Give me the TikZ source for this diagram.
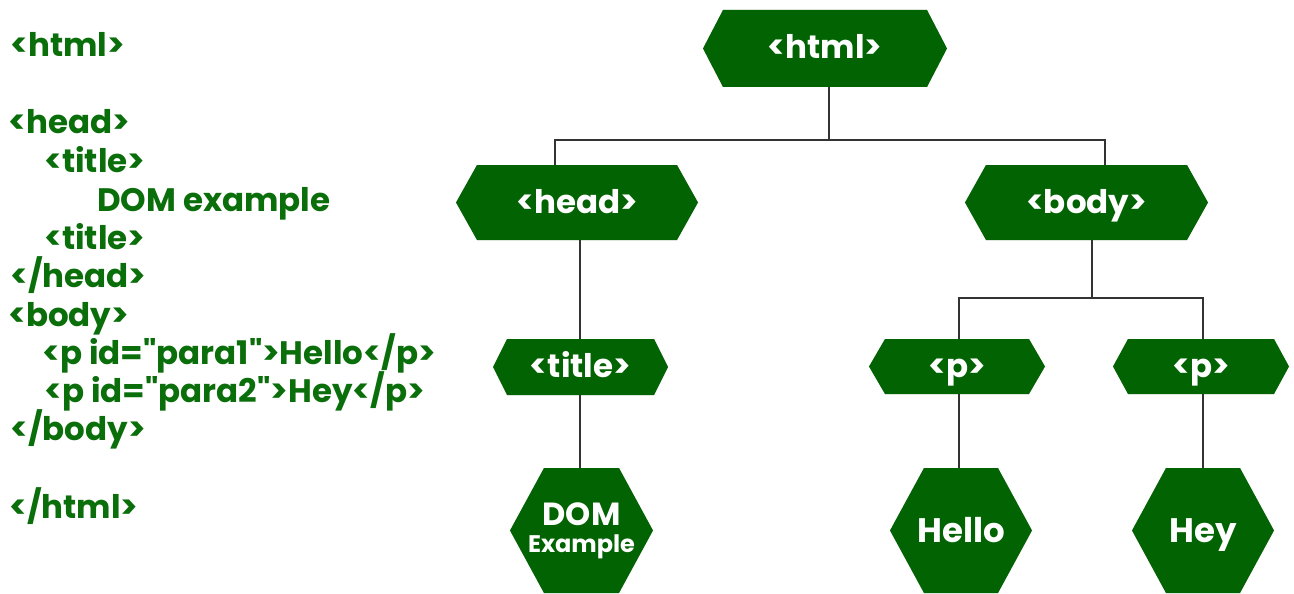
\documentclass[tikz,border=0pt]{standalone}
\usepackage{fontspec}
\setmainfont{Poppins}[Ligatures=TeXOff]
\usetikzlibrary{backgrounds}
\definecolor{gfg}{HTML}{026302}
\definecolor{codegreen}{HTML}{0A6E0A}
\definecolor{wire}{HTML}{333333}
\tikzset{
  hexbox/.style 2 args={minimum width=#1, minimum height=#2, inner sep=0pt, outer sep=0pt, text=white},
  hexshape/.style={fill=gfg},
  hexshadow/.style={fill=black!18},
  codeline/.style={anchor=base west, inner sep=0pt, text=codegreen, font=\fontsize{32.5}{36}\selectfont\bfseries},
  tagfont/.style={font=\fontsize{32.5}{36}\selectfont\bfseries, text height=24pt, text depth=3pt},
  leaffont/.style={font=\fontsize{34}{36}\selectfont\bfseries, text height=25pt, text depth=2pt},
  wireline/.style={draw=wire, line width=1.6pt},
}
\newcommand\hexpaint[2]{%
  \fill[hexshadow,xshift=1.5pt,yshift=-2pt] (#1.west) -- ([xshift=#2]#1.north west) -- ([xshift=-#2]#1.north east) -- (#1.east) -- ([xshift=-#2]#1.south east) -- ([xshift=#2]#1.south west) -- cycle;
  \fill[hexshape] (#1.west) -- ([xshift=#2]#1.north west) -- ([xshift=-#2]#1.north east) -- (#1.east) -- ([xshift=-#2]#1.south east) -- ([xshift=#2]#1.south west) -- cycle;}
\begin{document}
\begin{tikzpicture}[x=1pt,y=-1pt]
\useasboundingbox (0,0) rectangle (1294,594);
% code listing
\node[codeline] (c1) at (10,57) {<html>};
\node[codeline] (c2) at (8,133) {<head>};
\node[codeline] (c3) at (44,172) {<title>};
\node[codeline] (c4) at (97,211) {DOM example};
\node[codeline] (c5) at (44,249) {<title>};
\node[codeline] (c6) at (10,287) {</head>};
\node[codeline] (c7) at (8,326) {<body>};
\node[codeline] (c8) at (42,364) {<p id="para1">Hello</p>};
\node[codeline] (c9) at (44,402) {<p id="para2">Hey</p>};
\node[codeline] (c10) at (10,440) {</body>};
\node[codeline] (c11) at (9,518) {</html>};
% tree nodes
\node[hexbox={244pt}{77pt}, tagfont] (html) at (825,48.5) {<html>};
\node[hexbox={242pt}{75pt}, tagfont] (head) at (577,202.5) {<head>};
\node[hexbox={243pt}{75pt}, tagfont] (body) at (1086.5,202.5) {<body>};
\node[hexbox={175pt}{56pt}, tagfont] (title) at (580.5,367) {<title>};
\node[hexbox={176pt}{55pt}, tagfont] (p1) at (957,366.5) {<p>};
\node[hexbox={176pt}{55pt}, tagfont] (p2) at (1201,366.5) {<p>};
\node[hexbox={143pt}{125pt}, align=center, font=\fontsize{32}{27}\selectfont\bfseries] (dom) at (581.5,530.5) {DOM\\{\fontsize{24}{27}\selectfont Example}};
\node[hexbox={142pt}{125pt}, leaffont] (hello) at (961,530.5) {Hello};
\node[hexbox={142pt}{125pt}, leaffont] (hey) at (1203,530.5) {Hey};
\begin{pgfonlayer}{background}
\fill[white] (0,0) rectangle (1294,594);
\hexpaint{html}{20pt}
\hexpaint{head}{21pt}
\hexpaint{body}{21pt}
\hexpaint{title}{14pt}
\hexpaint{p1}{16pt}
\hexpaint{p2}{15pt}
\hexpaint{dom}{34pt}
\hexpaint{hello}{34pt}
\hexpaint{hey}{34pt}
\end{pgfonlayer}
% connectors
\draw[wireline] ([xshift=4pt]html.south) -- ++(0,53) coordinate (hj) -| ([xshift=-22pt]head.north);
\draw[wireline] (hj) -| ([xshift=18.5pt]body.north);
\draw[wireline] ([xshift=3pt]head.south) -- ([xshift=-0.5pt]title.north);
\draw[wireline] ([xshift=-0.5pt]title.south) -- ([xshift=-1.5pt]dom.north);
\draw[wireline] ([xshift=5.5pt]body.south) -- ++(0,58) coordinate (bj) -| ([xshift=2pt]p1.north);
\draw[wireline] (bj) -| ([xshift=2pt]p2.north);
\draw[wireline] ([xshift=2pt]p1.south) -- ([xshift=-2pt]hello.north);
\draw[wireline] ([xshift=2pt]p2.south) -- (hey.north);
\end{tikzpicture}
\end{document}
